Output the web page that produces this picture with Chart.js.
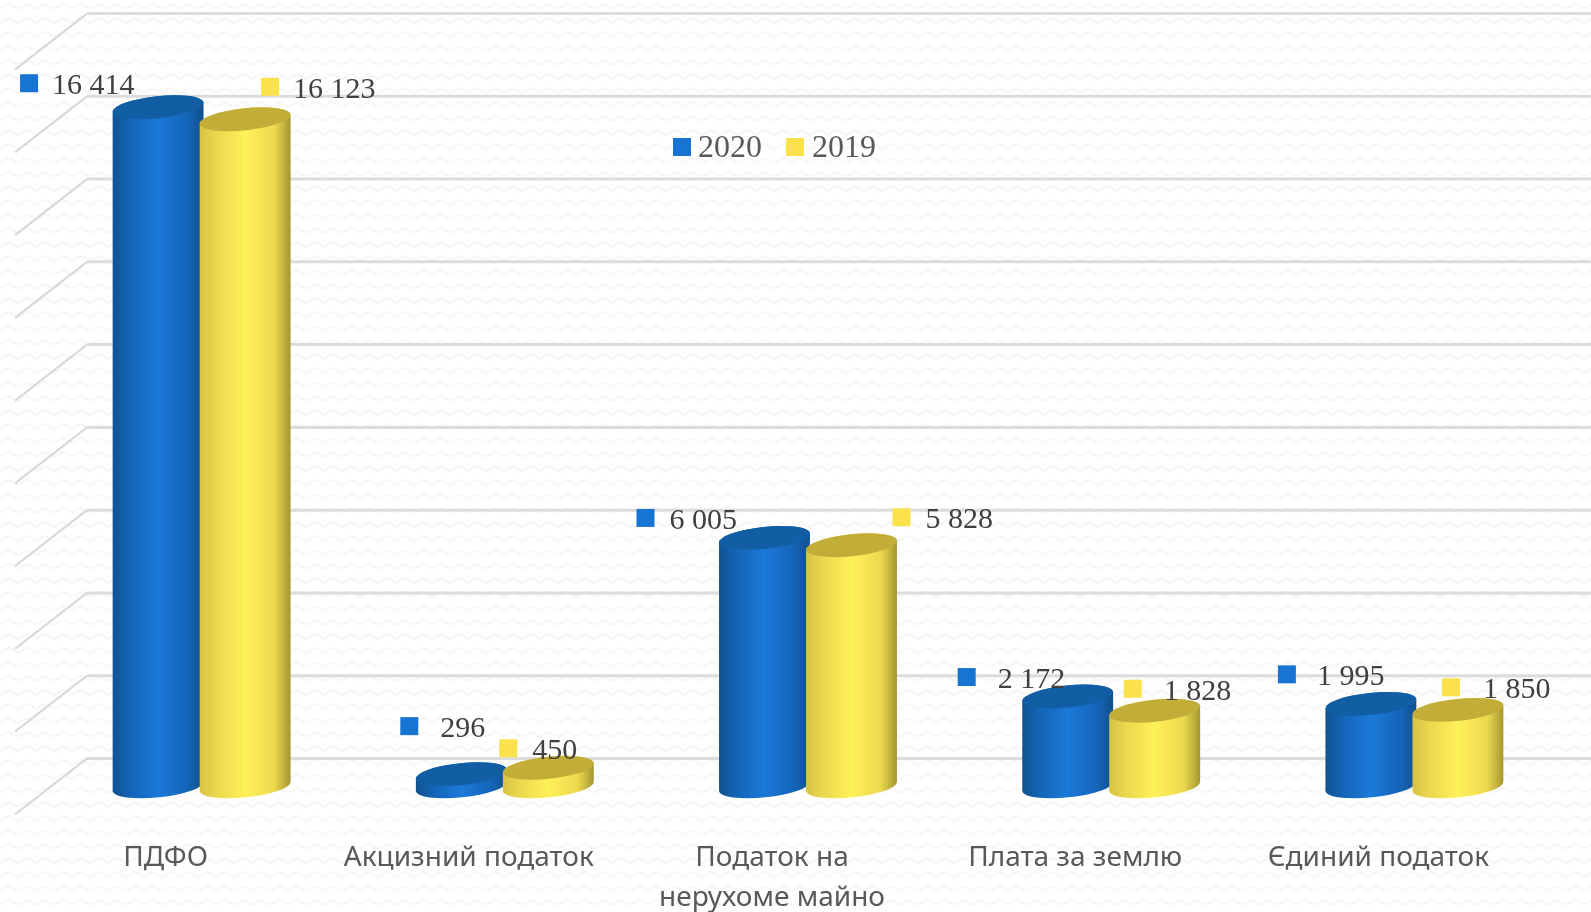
<!DOCTYPE html>
<html>
<head>
<meta charset="utf-8">
<title>Податки</title>
<script src="https://cdn.jsdelivr.net/npm/chart.js@4"></script>
<style>
    html, body { margin: 0; padding: 0; background: #fff; overflow: hidden; }
    #box { width: 1591px; height: 912px; }
</style>
</head>
<body>
<div id="box"><canvas id="chart" width="1591" height="912"></canvas></div>
<script>
// Chart data
const categories = ['ПДФО', 'Акцизний податок', ['Податок на', 'нерухоме майно'], 'Плата за землю', 'Єдиний податок'];
const values2020 = [16414, 296, 6005, 2172, 1995];
const values2019 = [16123, 450, 5828, 1828, 1850];
const valueLabels2020 = ['16 414', '296', '6 005', '2 172', '1 995'];
const valueLabels2019 = ['16 123', '450', '5 828', '1 828', '1 850'];

// Hand placed data labels, relative to the top of each bar
const labelDx2020 = [-129, -52, -119, -101, -84];
const labelDy2020 = [-24, -48, -20, -19.5, -29.5];
const labelGap2020 = [23, 31, 24, 31, 30];
const labelDx2019 = [25, -40, 50, -22, -7];
const labelDy2019 = [-32.5, -19.5, -28, -22, -22.5];
const labelGap2019 = [23, 24, 24, 31, 32];

const BLUE = '#1874d3';
const YELLOW = '#fbe14c';
const ELLIPSE_RY = 11;
const ELLIPSE_ROT = -6 * Math.PI / 180;
const WALL_DY = 28;    // back wall sits above the bars' floor line
const WALL_LEFT = 87;
const WALL_FRONT = 15;
const WALL_DROP = 56;

const barStyles = [
    { stops: ['#10528f', '#1465b8', '#1b79d9', '#1465b8', '#124f8c'], top: '#125ea5', dx: labelDx2020, dy: labelDy2020, gap: labelGap2020, text: valueLabels2020 },
    { stops: ['#d6c244', '#ecd94e', '#fff159', '#ecd94e', '#a39530'], top: '#c2ad39', dx: labelDx2019, dy: labelDy2019, gap: labelGap2019, text: valueLabels2019 }
];
const stopPositions = [0, 0.2, 0.5, 0.82, 1];

// Faint wavy paper texture behind everything
function makeTexture(ctx) {
    const tile = document.createElement('canvas');
    tile.width = 18;
    tile.height = 14;
    const t = tile.getContext('2d');
    t.fillStyle = '#ffffff';
    t.fillRect(0, 0, 18, 14);
    t.strokeStyle = '#f7f7f7';
    t.lineWidth = 2.5;
    t.beginPath();
    t.moveTo(0, 9);
    t.lineTo(9, 4);
    t.lineTo(18, 9);
    t.stroke();
    return ctx.createPattern(tile, 'repeat');
}

const backdrop = {
    id: 'backdrop',
    beforeDraw(chart) {
        const { ctx, width, height, scales: { y } } = chart;
        ctx.save();
        ctx.fillStyle = makeTexture(ctx);
        ctx.fillRect(0, 0, width, height);
        y.ticks.forEach((tick) => {
            const py = y.getPixelForValue(tick.value) - WALL_DY;
            ctx.strokeStyle = '#dcdcdc';
            ctx.lineWidth = 3;
            ctx.beginPath();
            ctx.moveTo(WALL_LEFT, py);
            ctx.lineTo(width, py);
            ctx.stroke();
            ctx.strokeStyle = '#d8d8d8';
            ctx.lineWidth = 2;
            ctx.beginPath();
            ctx.moveTo(WALL_LEFT, py);
            ctx.lineTo(WALL_FRONT, py + WALL_DROP);
            ctx.stroke();
        });
        ctx.restore();
    }
};

function drawCylinder(ctx, bar, style) {
    const { x, y, base, width } = bar.getProps(['x', 'y', 'base', 'width'], true);
    const rx = width / 2;
    const grad = ctx.createLinearGradient(x - rx, 0, x + rx, 0);
    style.stops.forEach((c, i) => grad.addColorStop(stopPositions[i], c));

    ctx.fillStyle = grad;
    ctx.beginPath();
    ctx.ellipse(x, base, rx, ELLIPSE_RY, ELLIPSE_ROT, 0, Math.PI);
    ctx.ellipse(x, y, rx, ELLIPSE_RY, ELLIPSE_ROT, Math.PI, Math.PI * 2);
    ctx.closePath();
    ctx.fill();

    ctx.fillStyle = style.top;
    ctx.beginPath();
    ctx.ellipse(x, y, rx, ELLIPSE_RY, ELLIPSE_ROT, 0, Math.PI * 2);
    ctx.fill();
}

const cylinders = {
    id: 'cylinders',
    // the flat bars are replaced by the cylinders below
    beforeDatasetDraw() {
        return false;
    },
    afterDatasetsDraw(chart) {
        const { ctx } = chart;
        ctx.save();
        chart.data.datasets.forEach((ds, i) => {
            chart.getDatasetMeta(i).data.forEach((bar) => drawCylinder(ctx, bar, barStyles[i]));
        });

        // value labels with their little colour keys
        ctx.font = '30px "Liberation Serif"';
        ctx.textBaseline = 'middle';
        ctx.textAlign = 'left';
        chart.data.datasets.forEach((ds, i) => {
            const st = barStyles[i];
            chart.getDatasetMeta(i).data.forEach((bar, j) => {
                const sx = bar.x + st.dx[j];
                const sy = bar.y + st.dy[j];
                ctx.fillStyle = ds.backgroundColor;
                ctx.fillRect(sx - 9, sy - 9, 18, 18);
                ctx.fillStyle = '#404040';
                ctx.fillText(st.text[j], sx + st.gap[j], sy + 3);
            });
        });

        // legend
        ctx.font = '32px "Liberation Serif"';
        ctx.fillStyle = BLUE;
        ctx.fillRect(673, 138, 18, 18);
        ctx.fillStyle = '#595959';
        ctx.fillText(chart.data.datasets[0].label, 698, 149);
        ctx.fillStyle = YELLOW;
        ctx.fillRect(786, 138, 18, 18);
        ctx.fillStyle = '#595959';
        ctx.fillText(chart.data.datasets[1].label, 812, 149);
        ctx.restore();
    }
};

new Chart(document.getElementById('chart'), {
    type: 'bar',
    data: {
        labels: categories,
        datasets: [
            { label: '2020', data: values2020, backgroundColor: BLUE },
            { label: '2019', data: values2019, backgroundColor: YELLOW }
        ]
    },
    options: {
        responsive: false,
        animation: false,
        devicePixelRatio: 1,
        layout: { padding: { left: 50, right: 25, top: 41.6, bottom: 0 } },
        categoryPercentage: 0.574,
        barPercentage: 1.05,
        plugins: { legend: { display: false }, tooltip: { enabled: false } },
        scales: {
            x: {
                grid: { display: false, drawTicks: false },
                border: { display: false },
                afterFit(scale) { scale.height = 125.6; },
                ticks: {
                    color: '#595959',
                    padding: 52,
                    labelOffset: -36,
                    maxRotation: 0,
                    autoSkip: false,
                    font: { family: '"Noto Sans"', size: 28, lineHeight: 1.42 }
                }
            },
            y: {
                display: false,
                min: 0,
                max: 18000,
                ticks: { stepSize: 2000 }
            }
        }
    },
    plugins: [backdrop, cylinders]
});
</script>
</body>
</html>
